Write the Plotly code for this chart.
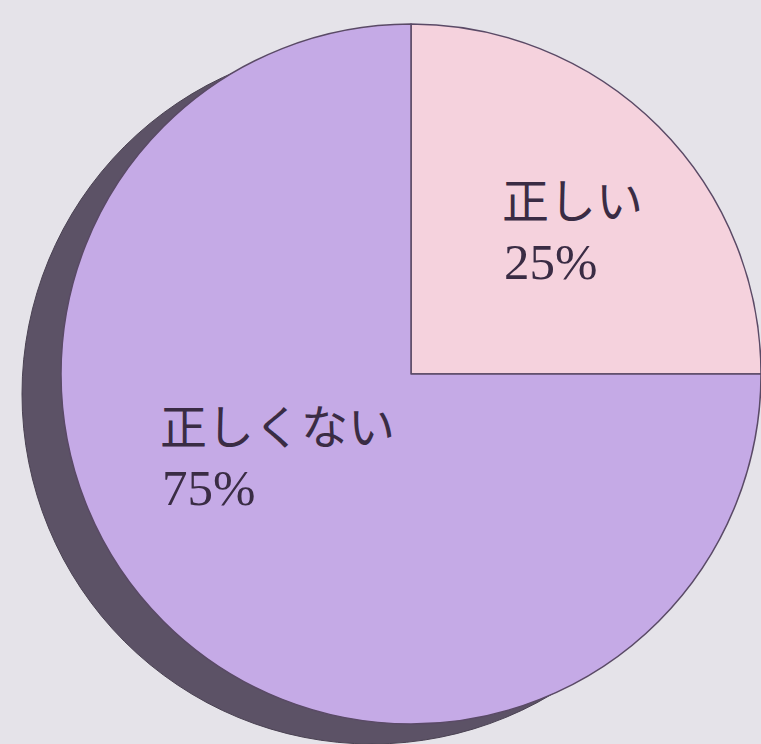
import plotly.graph_objects as go

labels = ["正しい", "正しくない"]
values = [25, 75]
colors = ["#f5d2dd", "#c5aae6"]
shadow_values = [100]

W, H = 761, 744

fig = go.Figure()

# shadow disc
fig.add_trace(go.Pie(
    values=shadow_values,
    labels=["shadow"],
    marker=dict(colors=["#5c5266"], line=dict(color="#4a4252", width=1)),
    textinfo="none",
    hoverinfo="skip",
    sort=False,
    domain=dict(x=[22 / W, 722 / W], y=[0.0, 700 / H]),
    showlegend=False,
))

# main pie
fig.add_trace(go.Pie(
    values=values,
    labels=labels,
    marker=dict(colors=colors, line=dict(color="#5a4a66", width=1.5)),
    textinfo="none",
    sort=False,
    direction="clockwise",
    rotation=0,
    domain=dict(x=[61 / W, 1.0], y=[20 / H, 720 / H]),
    showlegend=False,
))

# label positions (pixels from top-left)
label_pos = [(500, 197), (158, 423)]
pct_pos = [(502, 262), (160, 488)]

jp_font = dict(family="Noto Sans CJK JP", size=47, color="#3a2c44")
num_font = dict(family="Liberation Serif", size=51, color="#3a2c44")

for lab, val, (lx, ly), (px, py) in zip(labels, values, label_pos, pct_pos):
    fig.add_annotation(
        x=lx / W, y=1 - ly / H, xref="paper", yref="paper",
        text=lab, showarrow=False, xanchor="left", yanchor="middle",
        font=jp_font,
    )
    fig.add_annotation(
        x=px / W, y=1 - py / H, xref="paper", yref="paper",
        text=f"{val}%", showarrow=False, xanchor="left", yanchor="middle",
        font=num_font,
    )

fig.update_layout(
    width=W, height=H,
    margin=dict(l=0, r=0, t=0, b=0),
    paper_bgcolor="#e5e3e9",
    plot_bgcolor="#e5e3e9",
)

fig.write_html(
    "out.html",
    config={"displayModeBar": False},
    post_script="document.body.style.margin='0';document.body.style.background='#e5e3e9';",
)
